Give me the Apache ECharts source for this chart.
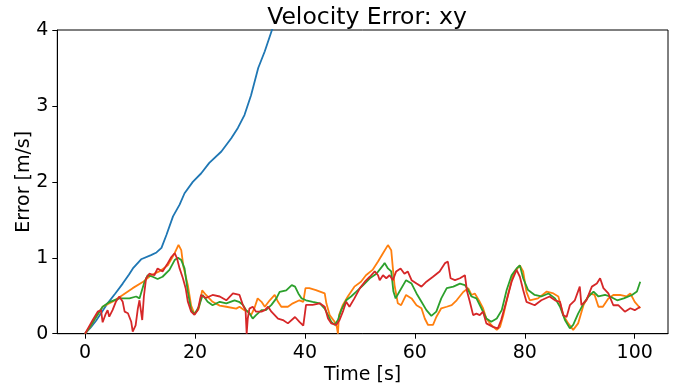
<!DOCTYPE html>
<html>
<head>
<meta charset="utf-8">
<script src="https://cdn.jsdelivr.net/npm/echarts@6/dist/echarts.min.js"></script>
<style>html,body{margin:0;padding:0;background:#fff}#c{width:677px;height:392px}</style>
</head>
<body>
<div id="c"></div>
<script>
const titleText = "Velocity Error: xy";
const xName = "Time [s]";
const yName = "Error [m/s]";
const xTicks = [0, 20, 40, 60, 80, 100];
const yTicks = [0, 1, 2, 3, 4];
const seriesNames = ["s1", "s2", "s3", "s4"];

const blueData = [[0,0],[1,0.08],[2,0.17],[3,0.28],[4.1,0.40],[5.5,0.53],[6.85,0.66],[8.0,0.78],[8.7,0.86],[10.2,0.98],[12.0,1.035],[13.0,1.07],[13.9,1.13],[14.8,1.30],[16.0,1.545],[17.2,1.70],[18.1,1.85],[19.6,2.0],[21.1,2.11],[22.6,2.25],[24.8,2.40],[26.6,2.575],[27.8,2.71],[29.0,2.88],[30.2,3.14],[31.0,3.36],[31.5,3.50],[32.7,3.72],[34.0,4.0],[35.0,4.2],[36,4.4]];

const orangeData = [[0,0],[1,0.1],[2,0.22],[3.2,0.355],[5.0,0.42],[6.85,0.51],[8.67,0.60],[10.5,0.68],[12.0,0.77],[13.5,0.82],[15.05,0.90],[16.3,1.06],[17.0,1.17],[17.5,1.1],[17.9,0.88],[18.7,0.64],[19.3,0.37],[19.9,0.26],[20.7,0.33],[21.3,0.57],[22.0,0.51],[23.2,0.42],[24.5,0.37],[25.7,0.355],[27.5,0.33],[28.1,0.355],[29.0,0.31],[29.6,0.29],[30.2,0.245],[30.8,0.335],[31.4,0.465],[32.1,0.42],[32.7,0.355],[33.6,0.44],[34.5,0.51],[35.1,0.42],[35.7,0.355],[36.9,0.355],[37.8,0.40],[39.0,0.44],[39.7,0.42],[40.1,0.60],[40.8,0.60],[42.0,0.575],[43.6,0.53],[43.9,0.40],[44.5,0.245],[45.4,0.157],[45.8,0.09],[46.0,0],[46.2,0.245],[46.9,0.38],[47.8,0.49],[49.0,0.62],[50.2,0.685],[51.1,0.77],[52.3,0.84],[53.3,0.95],[54.2,1.06],[55.1,1.167],[55.4,1.18],[55.7,1.10],[56.0,0.86],[56.3,0.64],[56.9,0.40],[57.5,0.375],[58.4,0.51],[59.4,0.465],[60.3,0.375],[61.2,0.335],[61.8,0.20],[62.4,0.115],[63.3,0.115],[63.9,0.22],[64.8,0.335],[65.8,0.355],[66.7,0.375],[67.6,0.44],[68.8,0.55],[69.7,0.60],[70.3,0.51],[70.9,0.53],[71.8,0.42],[72.4,0.335],[73.0,0.20],[73.9,0.115],[74.9,0.05],[75.5,0.09],[76.1,0.245],[77.0,0.53],[77.9,0.79],[79.1,0.90],[79.7,0.82],[80.3,0.55],[80.9,0.44],[82.4,0.465],[84.0,0.555],[85.2,0.53],[86.1,0.49],[87.0,0.245],[87.9,0.136],[88.8,0.05],[89.7,0.136],[90.7,0.38],[91.8,0.53],[92.7,0.51],[93.4,0.355],[94.2,0.355],[95.2,0.465],[96.1,0.51],[97.3,0.51],[98.5,0.49],[99.2,0.53],[100.0,0.42],[101.0,0.335]];

const greenData = [[0,0],[1,0.1],[2,0.22],[3.2,0.355],[4.5,0.42],[6.25,0.465],[8.07,0.465],[9.3,0.49],[9.9,0.465],[10.8,0.68],[11.4,0.77],[12.3,0.75],[13.2,0.72],[14.1,0.75],[15.35,0.84],[16.3,0.97],[16.9,1.0],[17.5,0.97],[18.1,0.86],[18.7,0.55],[19.3,0.31],[19.9,0.256],[20.7,0.355],[21.4,0.51],[22.3,0.42],[23.2,0.375],[24.5,0.42],[25.7,0.40],[27.2,0.44],[28.0,0.42],[28.7,0.38],[29.3,0.31],[29.9,0.27],[30.5,0.20],[31.1,0.245],[32.1,0.31],[32.9,0.31],[33.9,0.38],[34.8,0.465],[35.4,0.55],[36.6,0.57],[37.6,0.64],[38.2,0.62],[38.8,0.53],[39.4,0.465],[40.2,0.44],[41.4,0.42],[42.7,0.40],[43.6,0.33],[44.2,0.245],[44.8,0.157],[45.4,0.115],[46.0,0.18],[46.6,0.31],[47.5,0.44],[48.4,0.49],[49.3,0.55],[50.6,0.64],[51.8,0.73],[53.0,0.79],[54.2,0.90],[54.5,0.93],[55.1,0.86],[55.7,0.82],[56.1,0.555],[56.5,0.465],[57.2,0.555],[58.4,0.705],[59.4,0.66],[60.3,0.53],[61.2,0.42],[62.1,0.31],[63.0,0.235],[63.9,0.29],[64.8,0.465],[65.8,0.60],[67.0,0.62],[68.2,0.66],[69.1,0.64],[69.7,0.575],[70.3,0.49],[71.2,0.465],[72.1,0.335],[73.0,0.20],[73.9,0.157],[74.9,0.20],[75.8,0.31],[76.7,0.575],[77.6,0.77],[78.5,0.86],[79.1,0.90],[79.7,0.73],[80.6,0.575],[81.8,0.51],[83.0,0.49],[84.3,0.53],[85.5,0.465],[86.4,0.355],[87.3,0.18],[88.2,0.07],[88.8,0.115],[89.7,0.265],[90.7,0.40],[91.6,0.49],[92.5,0.555],[93.4,0.49],[94.6,0.51],[95.5,0.49],[96.8,0.44],[98.0,0.465],[99.5,0.51],[100.4,0.555],[101.0,0.685]];

const redData = [[0,0],[1.4,0.18],[2.3,0.29],[2.9,0.31],[3.2,0.15],[3.7,0.25],[4.1,0.31],[4.4,0.224],[5.0,0.31],[5.6,0.42],[6.25,0.49],[6.85,0.42],[7.2,0.29],[7.8,0.27],[8.4,0.157],[8.67,0.027],[9.2,0.11],[9.6,0.33],[9.9,0.44],[10.4,0.18],[10.7,0.49],[11.1,0.73],[11.7,0.79],[12.6,0.77],[13.2,0.86],[14.1,0.82],[14.9,0.91],[15.7,1.01],[16.3,1.06],[16.7,1.0],[17.2,0.86],[17.8,0.73],[18.3,0.60],[18.7,0.42],[19.3,0.29],[19.9,0.25],[20.5,0.31],[21.1,0.51],[22.0,0.47],[23.2,0.51],[24.5,0.49],[25.7,0.44],[26.9,0.53],[27.2,0.55],[28.1,0.51],[28.7,0.38],[29.2,0.31],[29.4,0.0],[29.6,0.2],[29.9,0.33],[30.5,0.355],[31.1,0.29],[32.1,0.29],[32.7,0.31],[33.3,0.355],[33.9,0.29],[35.1,0.20],[36.0,0.18],[36.9,0.136],[38.2,0.22],[39.0,0.157],[39.7,0.105],[40.2,0.38],[41.4,0.38],[42.7,0.40],[43.6,0.355],[44.2,0.20],[44.8,0.136],[45.7,0.115],[46.3,0.18],[46.9,0.29],[47.5,0.42],[48.1,0.355],[49.0,0.465],[50.0,0.60],[50.9,0.685],[51.8,0.75],[52.7,0.82],[53.3,0.77],[53.6,0.705],[54.2,0.77],[54.8,0.73],[55.4,0.77],[56.0,0.705],[56.6,0.82],[57.4,0.86],[58.1,0.79],[58.7,0.82],[59.4,0.705],[60.3,0.66],[61.2,0.62],[62.1,0.685],[63.3,0.75],[64.5,0.82],[65.5,0.93],[66.0,0.95],[66.5,0.73],[67.3,0.705],[68.2,0.73],[69.1,0.77],[69.5,0.555],[70.0,0.42],[70.6,0.245],[71.2,0.265],[71.8,0.245],[72.4,0.29],[73.0,0.136],[74.2,0.09],[75.1,0.07],[75.7,0.18],[76.7,0.44],[77.6,0.685],[78.5,0.84],[79.1,0.75],[79.7,0.575],[80.3,0.42],[81.8,0.375],[83.0,0.44],[84.5,0.49],[85.5,0.44],[86.4,0.42],[87.0,0.245],[87.6,0.22],[88.2,0.375],[89.1,0.44],[90.0,0.62],[90.3,0.375],[91.2,0.44],[92.2,0.62],[93.1,0.66],[93.7,0.73],[94.3,0.60],[95.2,0.53],[96.1,0.375],[97.0,0.375],[98.2,0.29],[99.2,0.335],[100.0,0.31],[101.0,0.355]];

const colors = ["#1f77b4", "#ff7f0e", "#2ca02c", "#d62728"];
const allData = [blueData, orangeData, greenData, redData];

const FONT = "DejaVu Sans";
const chart = echarts.init(document.getElementById('c'), null, {renderer: 'canvas'});
chart.setOption({
  animation: false,
  backgroundColor: '#fff',
  title: {
    text: titleText,
    left: 362,
    textAlign: 'center',
    top: 1,
    textStyle: {fontFamily: FONT, fontSize: 23.5, fontWeight: 'normal', color: '#000'}
  },
  grid: {left: 57.3, right: 9, top: 30, bottom: 58.3, show: true, borderColor: '#000', borderWidth: 1, backgroundColor: 'transparent'},
  xAxis: {
    type: 'value',
    min: -5.05, max: 106.05,
    name: xName, nameLocation: 'middle', nameGap: 32, nameMoveOverlap: false,
    nameTextStyle: {fontFamily: FONT, fontSize: 19, color: '#000'},
    axisLine: {show: true, onZero: false, lineStyle: {color: '#000', width: 1}},
    axisTick: {show: true, inside: false, length: 5, lineStyle: {color: '#000'}, customValues: xTicks},
    axisLabel: {fontFamily: FONT, fontSize: 19, color: '#000', margin: 9.5, customValues: xTicks},
    splitLine: {show: false}
  },
  yAxis: {
    type: 'value',
    min: 0, max: 4, interval: 1,
    name: yName, nameLocation: 'middle', nameGap: 24, nameMoveOverlap: false,
    nameTextStyle: {fontFamily: FONT, fontSize: 19, color: '#000'},
    axisLine: {show: true, onZero: false, lineStyle: {color: '#000', width: 1}},
    axisTick: {show: true, inside: false, length: 5, lineStyle: {color: '#000'}, customValues: yTicks},
    axisLabel: {fontFamily: FONT, fontSize: 19, color: '#000', margin: 9, customValues: yTicks},
    splitLine: {show: false}
  },
  series: allData.map((d, i) => ({
    name: seriesNames[i],
    type: 'line',
    data: d,
    showSymbol: false,
    symbol: 'none',
    clip: true,
    lineStyle: {color: colors[i], width: 1.8},
    itemStyle: {color: colors[i]},
    z: 2 + i
  }))
});
</script>
</body>
</html>
